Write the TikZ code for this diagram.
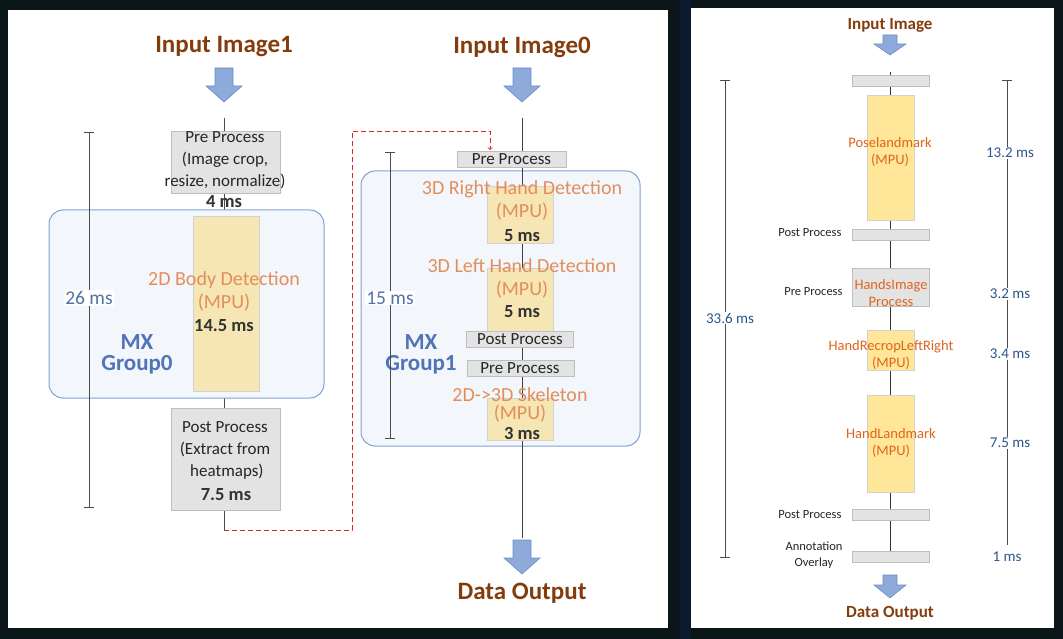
\documentclass[tikz,border=0pt]{standalone}
\usepackage{fontspec}
\setmainfont{Carlito}
\definecolor{bgd}{RGB}{10,22,24}
\definecolor{strip}{RGB}{12,26,48}
\definecolor{ttlc}{RGB}{132,60,12}
\definecolor{arrc}{RGB}{142,170,219}
\definecolor{arrd}{RGB}{110,140,200}
\definecolor{grpf}{RGB}{243,247,252}
\definecolor{grpd}{RGB}{130,160,210}
\definecolor{orgc}{RGB}{226,142,92}
\definecolor{orgr}{RGB}{222,102,30}
\definecolor{mxc}{RGB}{80,115,185}
\definecolor{msc}{RGB}{80,115,165}
\definecolor{msr}{RGB}{45,85,140}
\definecolor{yl}{RGB}{246,230,180}
\definecolor{yr}{RGB}{255,230,153}
\definecolor{gf}{RGB}{227,227,227}
\definecolor{gd}{RGB}{190,190,190}
\definecolor{redd}{RGB}{220,40,40}
\begin{document}
\begin{tikzpicture}[x=1pt,y=-1pt,
 gbox/.style={draw=gd,fill=gf,line width=0.8pt},
 ybox/.style={draw=gd!70,fill=yl,line width=0.8pt},
 yb2/.style={draw=gd!70,fill=yr,line width=0.8pt},
 grp/.style={draw=grpd,fill=grpf,line width=1pt,rounded corners=14pt},
 ttl/.style={font=\fontsize{25}{26}\selectfont\bfseries,text=ttlc},
 ttls/.style={font=\fontsize{17}{18}\selectfont\bfseries,text=ttlc},
 txt/.style={font=\fontsize{17}{22}\selectfont,text=black!85,align=center},
 org/.style={font=\fontsize{20}{23}\selectfont,text=orgc,align=center},
 bld/.style={font=\fontsize{18.5}{19}\selectfont\bfseries,text=black!80},
 mx/.style={font=\fontsize{23}{21}\selectfont\bfseries,text=mxc,align=center},
 ms/.style={font=\fontsize{19.5}{19}\selectfont,text=msc,fill=white,inner sep=1pt},
 msr/.style={font=\fontsize{15}{15}\selectfont,text=msr,fill=white,inner sep=1pt},
 sm/.style={font=\fontsize{12.5}{16}\selectfont,text=black!85,align=center},
 orgs/.style={font=\fontsize{14.5}{16.5}\selectfont,text=orgr,align=center},
 barl/.style={draw=black!70,line width=0.9pt},
 arr/.style={fill=arrc,draw=arrd,line width=0.6pt}]
\fill[bgd] (0,0) rectangle (1063,639);
\fill[strip] (680,0) rectangle (691,639);
\fill[white] (8,10) rectangle (668,628);
\fill[white] (691,8) rectangle (1054,628);
\useasboundingbox (0,0) rectangle (1063,639);
% ---------- left flow
\node[ttl] (in1) at (224,47) {Input Image1};
\filldraw[arr] (215,68)--(233,68)--(233,86)--(242,86)--(224,102)--(206,86)--(215,86)--cycle;
\coordinate (l1t) at (224,118);
\coordinate (l1b) at (224,530);
\draw[black!70,line width=0.9pt] (l1t)--(l1b);
\node[gbox,minimum width=109,minimum height=62] (pre1) at (225.5,162) {};
\node[txt] at (225,160) {Pre Process\\(Image crop,\\resize, normalize)};
\node[bld] (t4) at (224,202) {4 ms};
\node[grp,minimum width=275,minimum height=188] (g0) at (186.5,304) {};
\node[ybox,minimum width=66,minimum height=175] (body) at (226,303.5) {};
\node[org] at (224,291) {2D Body Detection\\(MPU)};
\node[bld] at (224,326) {14.5 ms};
\node[mx] (mx0) at (137,354) {MX\\Group0};
\node[gbox,minimum width=109,minimum height=102] (post1) at (225.5,459) {};
\node[txt] at (225,450) {Post Process\\(Extract from\\\ heatmaps)};
\node[bld] at (226,495) {7.5 ms};
\draw[barl] (89,132)--(89,507) (84,132)--(94,132) (84,507)--(94,507);
\node[ms] (l26) at (89,298) {26 ms};
% ---------- right flow in left panel
\node[ttl] (in0) at (522,47) {Input Image0};
\filldraw[arr] (513,68)--(531,68)--(531,86)--(540,86)--(522,102)--(504,86)--(513,86)--cycle;
\node[grp,minimum width=279,minimum height=275] (g1) at (500.5,308.5) {};
\coordinate (r1t) at (522,118);
\coordinate (r1b) at (522,538);
\draw[black!75,line width=1pt] (r1t)--(r1b);
\node[gbox,minimum width=109,minimum height=16] (pre2) at (511.5,159) {};
\node[txt] at (511.5,159) {Pre Process};
\node[ybox,minimum width=66,minimum height=57] (rh) at (520,214.5) {};
\node[ybox,minimum width=66,minimum height=69] (lh) at (520,302.5) {};
\node[ybox,minimum width=66,minimum height=42] (sk) at (520.5,419) {};
\node[gbox,minimum width=107,minimum height=16] (post2) at (519.5,339) {};
\node[txt] at (520,339) {Post Process};
\node[gbox,minimum width=107,minimum height=16] (pre3) at (520.5,368) {};
\node[txt] at (520,368) {Pre Process};
\node[org] at (522,200) {3D Right Hand Detection\\(MPU)};
\node[bld] at (522,236) {5 ms};
\node[org] at (522,278) {3D Left Hand Detection\\(MPU)};
\node[bld] at (522,312) {5 ms};
\node[org,font=\fontsize{20}{18}\selectfont] at (520,405) {2D->3D Skeleton\\(MPU)};
\node[bld] at (522,433) {3 ms};
\node[mx] (mx1) at (421,354) {MX\\Group1};
\draw[barl] (390,152)--(390,438) (385,152)--(395,152) (385,438)--(395,438);
\node[ms] (l15) at (390,298) {15 ms};
\filldraw[arr] (513,540)--(531,540)--(531,558)--(540,558)--(522,574)--(504,558)--(513,558)--cycle;
\node[ttl] (out0) at (522,593) {Data Output};
% dashed link
\coordinate (d1) at (352,530);
\coordinate (d2) at (352,131);
\coordinate (d3) at (490,131);
\coordinate (d4) at (490,150);
\draw[redd,dash pattern=on 5pt off 3pt,line width=0.9pt,->] (l1b)--(d1)--(d2)--(d3)--(d4);
% ---------- right panel
\node[ttls] (in2) at (890,25) {Input Image};
\filldraw[arr] (883,35)--(897,35)--(897,44)--(906,44)--(890,55)--(874,44)--(883,44)--cycle;
\coordinate (r2t) at (890,72);
\coordinate (r2b) at (890,562);
\draw[black!80,line width=1pt] (r2t)--(r2b);
\node[gbox,minimum width=77,minimum height=11] (b0) at (890.5,81) {};
\node[yb2,minimum width=47,minimum height=125] (pose) at (890.5,157.5) {};
\node[orgs] at (890,152) {Poselandmark\\(MPU)};
\node[gbox,minimum width=77,minimum height=11] (b1) at (890.5,235) {};
\node[sm,anchor=east] at (845,233) {Post Process};
\node[gbox,minimum width=77,minimum height=38] (hip) at (890.5,287) {};
\node[orgs] at (891,293) {HandsImage\\Process};
\node[sm,anchor=east] at (846,292) {Pre Process};
\node[yb2,minimum width=47,minimum height=40] (hr) at (890.5,350) {};
\node[orgs] at (891,355) {HandRecropLeftRight\\(MPU)};
\node[yb2,minimum width=47,minimum height=97] (hl) at (890.5,443.5) {};
\node[orgs] at (891,443) {HandLandmark\\(MPU)};
\node[gbox,minimum width=77,minimum height=11] (b2) at (890.5,515) {};
\node[sm,anchor=east] at (845,515) {Post Process};
\node[gbox,minimum width=77,minimum height=11] (b3) at (890.5,556.5) {};
\node[sm] at (814,555) {Annotation\\Overlay};
\filldraw[arr] (883,575)--(897,575)--(897,585)--(906,585)--(890,598)--(874,585)--(883,585)--cycle;
\node[ttls] (out2) at (890,613) {Data Output};
\draw[barl] (725,80)--(725,557) (720,80)--(730,80) (720,557)--(730,557);
\node[msr] at (730,318) {33.6 ms};
\draw[barl] (1007,80)--(1007,545) (1002,80)--(1012,80);
\node[msr] at (1010,153) {13.2 ms};
\node[msr] at (1010,294) {3.2 ms};
\node[msr] at (1010,354) {3.4 ms};
\node[msr] at (1010,443) {7.5 ms};
\node[msr] at (1007,557) {1 ms};
\end{tikzpicture}
\end{document}
